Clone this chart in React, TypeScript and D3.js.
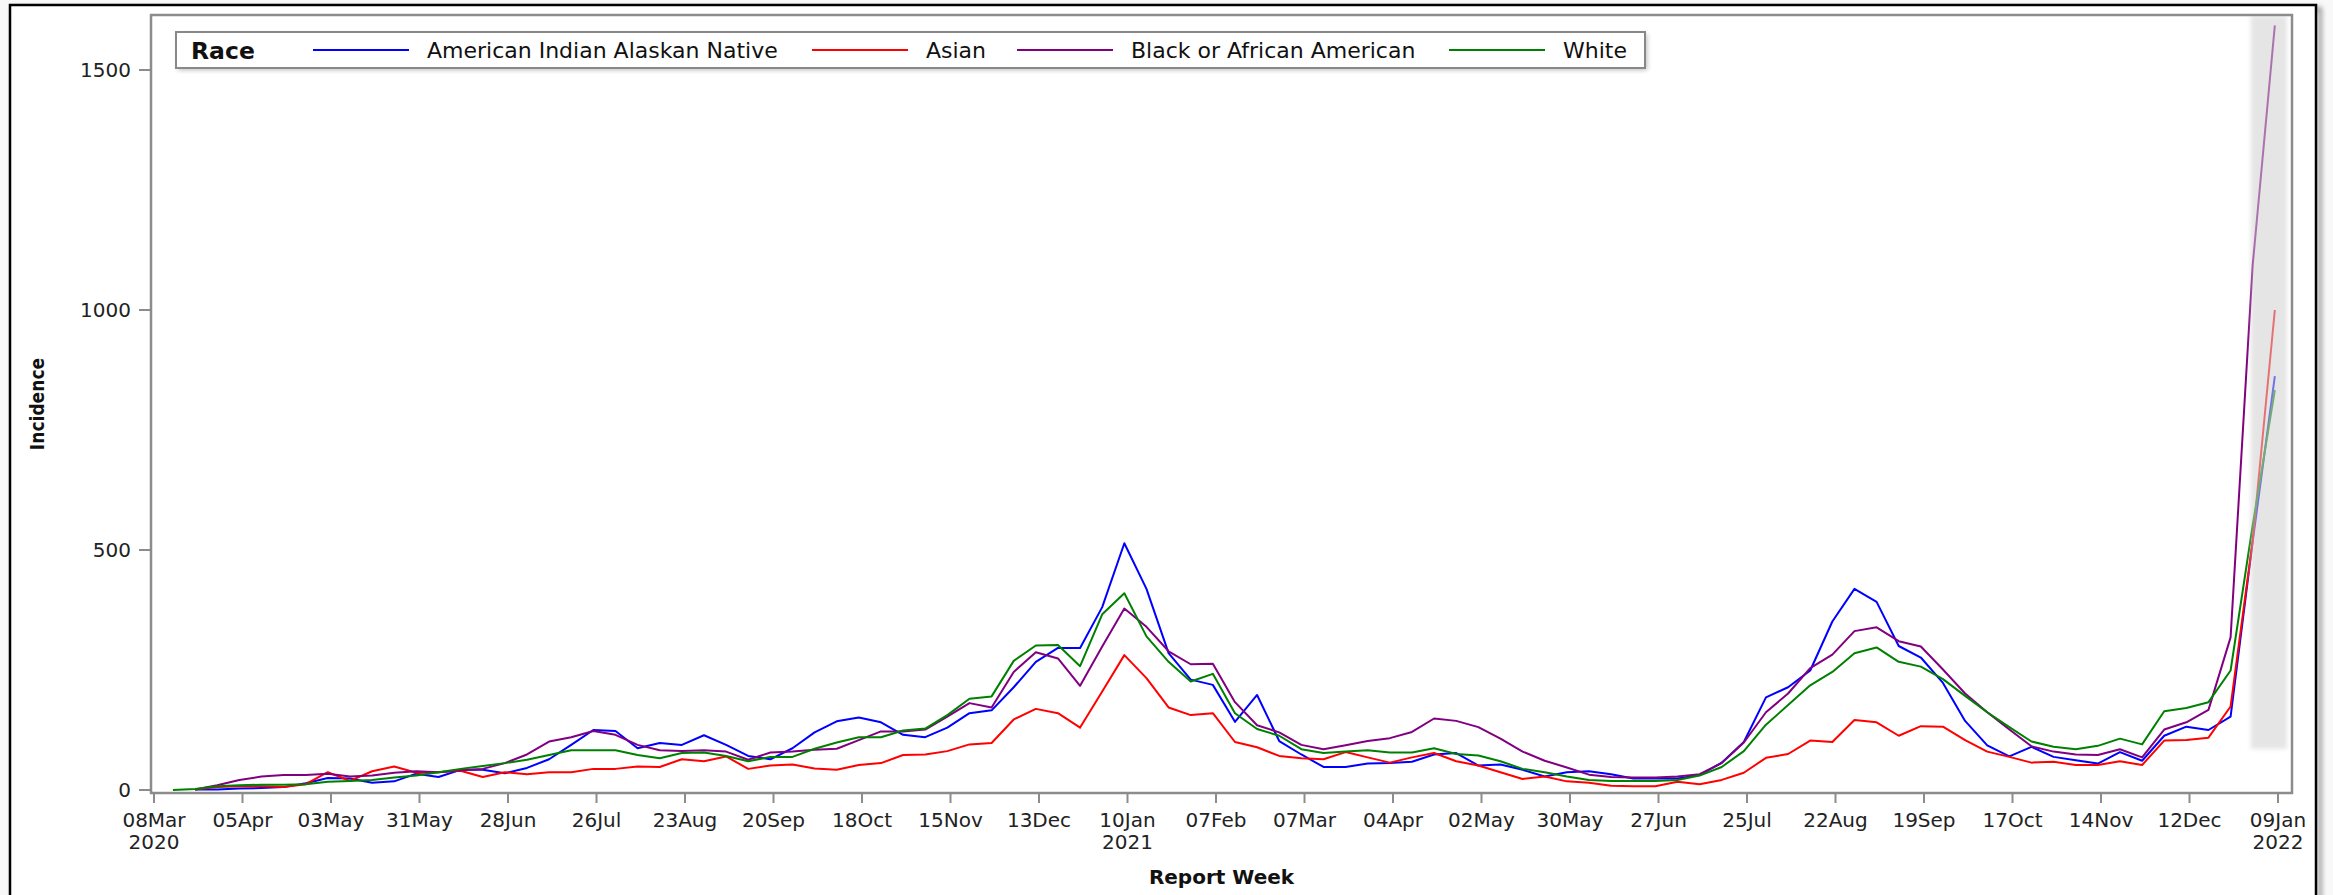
import React, { useEffect, useRef } from 'react';
import * as d3 from 'd3';

// weekly incidence by race, report weeks ending on Saturdays from 14Mar2020
const firstWeekEnding = new Date(Date.UTC(2020, 2, 14));

const races = ['American Indian Alaskan Native', 'Asian', 'Black or African American', 'White'];
const raceColors = ['#0000ff', '#ff0000', '#800080', '#008000'];

const aianValues = [
  null, 1, 1, 3, 4, 6, 14, 25, 24, 15, 18, 34, 27, 42, 42, 35, 46, 64, 94, 125,
  123, 87, 98, 94, 114, 94, 71, 64, 87, 120, 143, 151, 141, 115, 110, 130, 160, 166, 214, 267,
  296, 296, 381, 514, 419, 285, 230, 219, 142, 198, 102, 74, 48, 48, 55, 56, 59, 74, 77, 51,
  53, 42, 28, 37, 39, 33, 24, 24, 24, 31, 57, 100, 193, 214, 249, 351, 419, 392, 300, 276,
  223, 144, 93, 70, 90, 69, 62, 55, 79, 61, 113, 132, 125, 153, 518, 862,
];
const asianValues = [
  null, 1, 6, 8, 8, 6, 12, 37, 19, 39, 49, 36, 37, 40, 27, 37, 33, 37, 37, 44,
  44, 49, 48, 64, 60, 70, 44, 51, 53, 45, 42, 52, 56, 73, 74, 81, 95, 98, 147, 169,
  160, 130, 205, 281, 233, 172, 156, 160, 100, 89, 71, 66, 64, 79, 68, 57, 68, 77, 60, 51,
  37, 23, 28, 18, 15, 9, 8, 8, 17, 12, 21, 36, 67, 75, 103, 100, 146, 141, 113, 133,
  132, 104, 80, 69, 57, 59, 52, 52, 60, 52, 103, 104, 109, 174, 520, 1000,
];
const blackValues = [
  null, 1, 10, 21, 28, 31, 31, 34, 28, 30, 36, 39, 37, 41, 44, 56, 74, 101, 110, 123,
  115, 94, 83, 81, 83, 80, 63, 78, 80, 84, 86, 104, 122, 122, 126, 153, 181, 172, 246, 287,
  274, 217, 299, 378, 340, 289, 262, 263, 183, 135, 120, 94, 85, 93, 102, 108, 121, 149, 144, 131,
  107, 80, 61, 47, 32, 27, 26, 26, 28, 33, 56, 99, 162, 201, 254, 282, 331, 339, 310, 299,
  251, 201, 162, 126, 91, 80, 74, 73, 85, 68, 126, 141, 167, 318, 1094, 1593,
];
const whiteValues = [
  0, 2, 8, 10, 11, 11, 12, 17, 19, 21, 26, 30, 37, 44, 50, 56, 63, 73, 83, 83,
  83, 73, 66, 77, 78, 71, 60, 69, 69, 86, 99, 110, 110, 124, 128, 156, 190, 195, 269, 301,
  302, 258, 366, 410, 320, 267, 226, 242, 160, 127, 113, 85, 77, 80, 83, 78, 78, 87, 75, 72,
  60, 44, 37, 28, 21, 19, 19, 19, 21, 30, 48, 81, 136, 177, 218, 246, 285, 297, 267, 257,
  231, 196, 162, 131, 101, 90, 85, 92, 107, 95, 164, 171, 183, 249, 552, 833,
];

const yTicks = [0, 500, 1000, 1500];

const FONT = '"DejaVu Sans", Verdana, sans-serif';

const App = () => {
  const svgRef = useRef(null);

  useEffect(() => {
    drawChart();
  }, []);

  const drawChart = () => {
    const svg = d3.select(svgRef.current);
    svg.selectAll('*').remove();

    const width = 2333;
    const height = 895;
    const frame = { left: 151, top: 15, right: 2292, bottom: 793 };

    const weeks = aianValues.map((_, i) => d3.utcDay.offset(firstWeekEnding, 7 * i));
    const seriesValues = [aianValues, asianValues, blackValues, whiteValues];

    const xStart = new Date(Date.UTC(2020, 2, 8));
    const xEnd = new Date(Date.UTC(2022, 0, 9));
    const xScale = d3.scaleUtc().domain([xStart, xEnd]).range([154, 2278]);
    const yScale = d3.scaleLinear().domain([0, 1500]).range([790, 70]);

    const defs = svg.append('defs');
    defs.append('filter').attr('id', 'soft')
      .attr('x', '-20%').attr('y', '-5%').attr('width', '140%').attr('height', '110%')
      .append('feGaussianBlur').attr('stdDeviation', 2);
    defs.append('filter').attr('id', 'shadow')
      .append('feGaussianBlur').attr('stdDeviation', 2.5);

    // page + outer border
    svg.append('rect').attr('width', width).attr('height', height).attr('fill', '#f8f8f8');
    svg.append('rect')
      .attr('x', 14).attr('y', 9).attr('width', 2306).attr('height', 1000)
      .attr('fill', 'none').attr('stroke', '#9a9a9a').attr('stroke-width', 4)
      .attr('filter', 'url(#shadow)');
    svg.append('rect')
      .attr('x', 10).attr('y', 5).attr('width', 2306).attr('height', 1000)
      .attr('fill', '#fff').attr('stroke', '#000').attr('stroke-width', 2.5);

    // plot frame
    svg.append('rect')
      .attr('x', frame.left).attr('y', frame.top)
      .attr('width', frame.right - frame.left).attr('height', frame.bottom - frame.top)
      .attr('fill', '#fff');

    // series lines
    const line = d3.line()
      .defined(d => d[1] != null)
      .x(d => xScale(d[0]))
      .y(d => yScale(d[1]));

    seriesValues.forEach((vals, i) => {
      svg.append('path')
        .datum(vals.map((v, j) => [weeks[j], v]))
        .attr('fill', 'none')
        .attr('stroke', raceColors[i])
        .attr('stroke-width', 2)
        .attr('stroke-linejoin', 'round')
        .attr('d', line);
    });

    // shaded band over the last (incomplete) weeks
    const n = weeks.length;
    const bandX0 = xScale(weeks[n - 2]) - 2;
    const bandX1 = xScale(weeks[n - 1]) + 12;
    svg.append('rect')
      .attr('x', bandX0).attr('y', frame.top + 1)
      .attr('width', bandX1 - bandX0).attr('height', 749 - frame.top - 1)
      .attr('fill', '#d0d0d0').attr('opacity', 0.55)
      .attr('filter', 'url(#soft)');

    svg.append('rect')
      .attr('x', frame.left).attr('y', frame.top)
      .attr('width', frame.right - frame.left).attr('height', frame.bottom - frame.top)
      .attr('fill', 'none').attr('stroke', '#8c8c8c').attr('stroke-width', 2.5);

    // y axis
    const yAxis = svg.append('g');
    yTicks.forEach(t => {
      yAxis.append('line')
        .attr('x1', 139).attr('x2', frame.left)
        .attr('y1', yScale(t)).attr('y2', yScale(t))
        .attr('stroke', '#8c8c8c').attr('stroke-width', 2);
      yAxis.append('text')
        .attr('x', 131).attr('y', yScale(t)).attr('dy', '0.36em')
        .attr('text-anchor', 'end')
        .attr('font-family', FONT).attr('font-size', 20).attr('fill', '#222')
        .text(t);
    });

    // x axis, a tick every 4 weeks
    const xTicks = d3.range(25).map(i => d3.utcDay.offset(xStart, 28 * i));
    const fmt = d3.utcFormat('%d%b');
    const xAxis = svg.append('g');
    xTicks.forEach((t, i) => {
      const px = xScale(t);
      xAxis.append('line')
        .attr('x1', px).attr('x2', px).attr('y1', frame.bottom).attr('y2', 803)
        .attr('stroke', '#8c8c8c').attr('stroke-width', 2);
      xAxis.append('text')
        .attr('x', px).attr('y', 827)
        .attr('text-anchor', 'middle')
        .attr('font-family', FONT).attr('font-size', 20).attr('fill', '#222')
        .text(fmt(t));
      if (i === 0 || t.getUTCMonth() === 0) {
        xAxis.append('text')
          .attr('x', px).attr('y', 849)
          .attr('text-anchor', 'middle')
          .attr('font-family', FONT).attr('font-size', 20).attr('fill', '#222')
          .text(t.getUTCFullYear());
      }
    });

    // axis labels
    svg.append('text')
      .attr('x', (frame.left + frame.right) / 2).attr('y', 884)
      .attr('text-anchor', 'middle')
      .attr('font-family', FONT).attr('font-size', 20).attr('font-weight', 'bold').attr('fill', '#111')
      .text('Report Week');
    svg.append('text')
      .attr('transform', `translate(44, ${(frame.top + frame.bottom) / 2}) rotate(-90)`)
      .attr('text-anchor', 'middle')
      .attr('font-family', '"DejaVu Sans Condensed", "DejaVu Sans", sans-serif')
      .attr('font-size', 19).attr('font-weight', 'bold').attr('fill', '#111')
      .text('Incidence');

    // legend
    const legend = svg.append('g');
    legend.append('rect')
      .attr('x', 178).attr('y', 34).attr('width', 1469).attr('height', 36)
      .attr('fill', '#bbb').attr('filter', 'url(#shadow)');
    legend.append('rect')
      .attr('x', 176).attr('y', 32).attr('width', 1469).attr('height', 36)
      .attr('fill', '#fff').attr('stroke', '#888').attr('stroke-width', 2);
    legend.append('text')
      .attr('x', 191).attr('y', 59)
      .attr('font-family', FONT).attr('font-size', 23.5).attr('font-weight', 'bold').attr('fill', '#111')
      .text('Race');
    const lineStarts = [313, 812, 1017, 1449];
    lineStarts.forEach((lx, i) => {
      legend.append('line')
        .attr('x1', lx).attr('x2', lx + 96).attr('y1', 50).attr('y2', 50)
        .attr('stroke', raceColors[i]).attr('stroke-width', 2);
      legend.append('text')
        .attr('x', lx + 114).attr('y', 58)
        .attr('font-family', FONT).attr('font-size', 22).attr('fill', '#111')
        .text(races[i]);
    });
  };

  return (
    <div style={{ position: 'absolute', left: 0, top: 0 }}>
      <svg ref={svgRef} width={2333} height={895} style={{ display: 'block' }} />
    </div>
  );
};

export default App;
